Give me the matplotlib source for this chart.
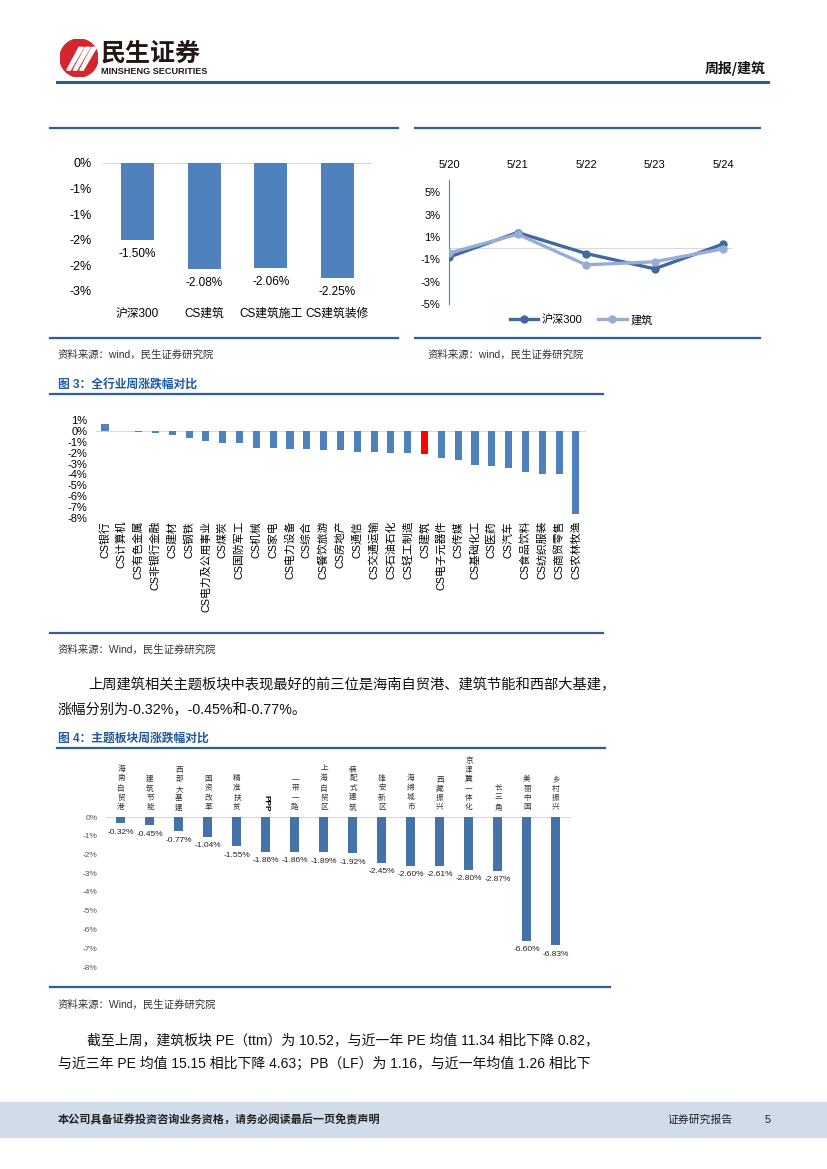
import numpy as np
import matplotlib
matplotlib.use("Agg")
import matplotlib.pyplot as plt
from matplotlib.lines import Line2D
from matplotlib.patches import Circle, Rectangle, Polygon

plt.rcParams['font.family'] = ['Liberation Sans', 'Noto Sans CJK SC', 'DejaVu Sans']
plt.rcParams['axes.unicode_minus'] = False

W, H = 827, 1169

# ---- chart 1: index weekly change ----
idx_names = ['沪深300', 'CS建筑', 'CS建筑施工', 'CS建筑装修']
idx_chg = [-1.50, -2.08, -2.06, -2.25]
idx_ticks = [0, -0.5, -1.0, -1.5, -2.0, -2.5]
idx_ticklabels = ['0%', '-1%', '-1%', '-2%', '-2%', '-3%']

# ---- chart 2: daily change ----
days = ['5/20', '5/21', '5/22', '5/23', '5/24']
hs300_daily = [-0.80, 1.40, -0.48, -1.85, 0.36]
build_daily = [-0.45, 1.25, -1.49, -1.22, -0.06]
daily_ticks = [5, 3, 1, -1, -3, -5]

# ---- chart 3: all industries ----
industries = ['CS银行', 'CS计算机', 'CS有色金属', 'CS非银行金融', 'CS建材', 'CS钢铁',
              'CS电力及公用事业', 'CS煤炭', 'CS国防军工', 'CS机械', 'CS家电', 'CS电力设备',
              'CS综合', 'CS餐饮旅游', 'CS房地产', 'CS通信', 'CS交通运输', 'CS石油石化',
              'CS轻工制造', 'CS建筑', 'CS电子元器件', 'CS传媒', 'CS基础化工', 'CS医药',
              'CS汽车', 'CS食品饮料', 'CS纺织服装', 'CS商贸零售', 'CS农林牧渔']
industry_chg = [0.62, -0.04, -0.12, -0.22, -0.40, -0.62, -0.96, -1.08, -1.14, -1.55,
                -1.60, -1.66, -1.70, -1.73, -1.76, -1.95, -1.98, -2.03, -2.06, -2.08,
                -2.52, -2.66, -3.15, -3.18, -3.40, -3.80, -3.93, -3.98, -7.62]
industry_ticks = [1, 0, -1, -2, -3, -4, -5, -6, -7, -8]
highlight = 'CS建筑'

# ---- chart 4: theme sectors ----
themes = ['海南自贸港', '建筑节能', '西部大基建', '国资改革', '精准扶贫', 'PPP', '一带一路',
          '上海自贸区', '装配式建筑', '雄安新区', '海绵城市', '西藏振兴', '京津冀一体化',
          '长三角', '美丽中国', '乡村振兴']
theme_chg = [-0.32, -0.45, -0.77, -1.04, -1.55, -1.86, -1.86, -1.89, -1.92, -2.45,
             -2.60, -2.61, -2.80, -2.87, -6.60, -6.83]
theme_ticks = [0, -1, -2, -3, -4, -5, -6, -7, -8]

para1 = ['上周建筑相关主题板块中表现最好的前三位是海南自贸港、建筑节能和西部大基建，',
         '涨幅分别为-0.32%，-0.45%和-0.77%。']
para2 = ['截至上周，建筑板块 PE（ttm）为 10.52，与近一年 PE 均值 11.34 相比下降 0.82，',
         '与近三年 PE 均值 15.15 相比下降 4.63；PB（LF）为 1.16，与近一年均值 1.26 相比下']
source_txt = '资料来源：{}，民生证券研究院'

fig = plt.figure(figsize=(W / 100, H / 100), dpi=100)

def px_axes(left, top, right, bottom):
    return fig.add_axes([left / W, 1 - bottom / H, (right - left) / W, (bottom - top) / H])

def ftext(x, y, s, **kw):
    kw.setdefault('va', 'center')
    return fig.text(x / W, 1 - y / H, s, **kw)

def hrule(x0, x1, y, color='#2f5f93', lw=1.6):
    fig.add_artist(Line2D([x0 / W, x1 / W], [1 - y / H, 1 - y / H], color=color, lw=lw))

def clean(ax):
    for s in ax.spines.values():
        s.set_visible(False)
    ax.tick_params(length=0)

# header
logo = px_axes(60, 39, 98, 77)
logo.set_xlim(0, 1); logo.set_ylim(0, 1); logo.axis('off')
logo.add_patch(Circle((0.5, 0.5), 0.5, color='#d4262d'))
for k in range(3):
    dx = k * 0.17
    logo.add_patch(Polygon([[0.18 + dx, 0.18], [0.27 + dx, 0.18], [0.62 + dx, 0.78], [0.50 + dx, 0.78]],
                           closed=True, color='white'))
ftext(101, 54, '民生证券', fontsize=18, fontweight='bold', color='#231815',
      family=['Noto Sans CJK SC'])
ftext(101, 71, 'MINSHENG SECURITIES', fontsize=6.6, fontweight='bold', color='#231815',
      family=['Liberation Sans Narrow', 'Liberation Sans'])
ftext(766, 68, '周报/建筑', fontsize=10, fontweight='bold', ha='right', color='#111111',
      family=['Noto Sans CJK SC'])
hrule(57, 768, 82, color='#2b5b97', lw=2.2)

# chart 1
hrule(50, 398, 128)
ax1 = px_axes(103, 163, 372, 291)
xi = np.arange(len(idx_names))
ax1.bar(xi, idx_chg, width=0.5, color='#4f81bd', zorder=2)
ax1.axhline(0, color='#d9d9d9', lw=0.8, zorder=1)
ax1.set_xlim(-0.52, 3.52)
ax1.set_ylim(-2.5, 0)
ax1.set_yticks(idx_ticks, idx_ticklabels, fontsize=9)
ax1.set_xticks(xi, idx_names, fontsize=8.5)
clean(ax1)
ax1.tick_params(axis='y', pad=8)
ax1.tick_params(axis='x', pad=12)
for i, v in enumerate(idx_chg):
    ax1.annotate(f'{v:.2f}%', (i, v), xytext=(0, -10), textcoords='offset points',
                 ha='center', va='center', fontsize=8.5)
hrule(50, 398, 338)
ftext(58, 355, source_txt.format('wind'), fontsize=7.5, color='#333333')

# chart 2
hrule(415, 760, 128)
ax2 = px_axes(449, 180, 732, 304)
xd = np.arange(len(days))
ax2.plot(xd, hs300_daily, color='#40699f', lw=2.4, marker='o', ms=5, label='沪深300', zorder=3)
ax2.plot(xd, build_daily, color='#98add5', lw=2.4, marker='o', ms=5, label='建筑', zorder=4)
ax2.axhline(0, color='#d9d9d9', lw=0.8, zorder=1)
ax2.set_xlim(0, 4.13)
ax2.set_ylim(-5, 6.1)
ax2.set_yticks(daily_ticks, [f'{t}%' for t in daily_ticks], fontsize=8)
ax2.xaxis.tick_top()
ax2.set_xticks(xd, days, fontsize=8)
clean(ax2)
ax2.spines['left'].set_visible(True)
ax2.spines['left'].set_color('#4f81bd')
ax2.tick_params(axis='y', pad=6)
ax2.tick_params(axis='x', pad=7)
h2, l2 = ax2.get_legend_handles_labels()
fig.legend(h2, l2, loc='center', bbox_to_anchor=(581 / W, 1 - 320 / H), ncol=2, frameon=False,
           fontsize=8, handlelength=2.6, columnspacing=1.4, handletextpad=0.3)
hrule(415, 760, 338)
ftext(428, 355, source_txt.format('wind'), fontsize=7.5, color='#333333')

# chart 3
ftext(58, 385, '图 3：全行业周涨跌幅对比', fontsize=8.5, fontweight='bold', color='#1f58a0')
hrule(50, 603, 394)
ax3 = px_axes(96, 420, 586, 518)
xs = np.arange(len(industries))
cols = ['#ff0000' if n == highlight else '#4f81bd' for n in industries]
ax3.bar(xs, industry_chg, width=0.42, color=cols, zorder=2)
ax3.axhline(0, color='#d9d9d9', lw=0.8, zorder=1)
ax3.set_xlim(-0.535, 28.6)
ax3.set_ylim(-8, 1)
ax3.set_yticks(industry_ticks, [f'{t}%' for t in industry_ticks], fontsize=8)
ax3.set_xticks(xs, industries, rotation=90, fontsize=7.8)
clean(ax3)
ax3.tick_params(axis='y', pad=6)
ax3.tick_params(axis='x', pad=2)
hrule(50, 603, 633)
ftext(58, 650, source_txt.format('Wind'), fontsize=7.5, color='#333333')

# paragraph 1
ftext(88, 685, para1[0], fontsize=10.3, color='#111111')
ftext(58, 710, para1[1], fontsize=10.3, color='#111111')

# chart 4
ftext(58, 739, '图 4：主题板块周涨跌幅对比', fontsize=8.5, fontweight='bold', color='#1f58a0')
hrule(57, 605, 748)
ax4 = px_axes(106, 817, 571, 967)
xt = np.arange(len(themes))
ax4.bar(xt, theme_chg, width=0.31, color='#4472a9', zorder=2)
ax4.axhline(0, color='#d9d9d9', lw=0.8, zorder=1)
ax4.set_xlim(-0.517, 15.52)
ax4.set_ylim(-8, 0)
ax4.set_yticks(theme_ticks, [f'{t}%' for t in theme_ticks], fontsize=6, color='#555555')
ax4.set_xticks([])
clean(ax4)
ax4.tick_params(axis='y', pad=6)
for i, (n, v) in enumerate(zip(themes, theme_chg)):
    ax4.annotate(f'{v:.2f}%', (i, v), xytext=(0, -6.5), textcoords='offset points',
                 ha='center', va='center', fontsize=6, color='#222222', annotation_clip=False)
    if n.isascii():
        ax4.annotate(n, (i, 0), xytext=(0, 4), textcoords='offset points', rotation=-90,
                     ha='center', va='bottom', fontsize=6, fontweight='bold', annotation_clip=False)
    else:
        ax4.annotate('\n'.join(n), (i, 0), xytext=(0, 4), textcoords='offset points',
                     ha='center', va='bottom', fontsize=5.5, linespacing=1.45,
                     color='#333333', annotation_clip=False)
hrule(50, 610, 987)
ftext(58, 1005, source_txt.format('Wind'), fontsize=7.5, color='#333333')

# paragraph 2
ftext(87, 1040, para2[0], fontsize=10, color='#111111')
ftext(58, 1064, para2[1], fontsize=10, color='#111111')

# footer
fig.add_artist(Rectangle((0, 1 - 1137 / H), 1, 35 / H, transform=fig.transFigure,
                         color='#d0dcea', zorder=0))
ftext(58, 1120, '本公司具备证券投资咨询业务资格，请务必阅读最后一页免责声明', fontsize=8,
      fontweight='bold', color='#222222')
ftext(667, 1120, '证券研究报告', fontsize=7.8, color='#222222')
ftext(765, 1120, '5', fontsize=8, color='#222222')

fig.savefig('out.png', dpi=100)
